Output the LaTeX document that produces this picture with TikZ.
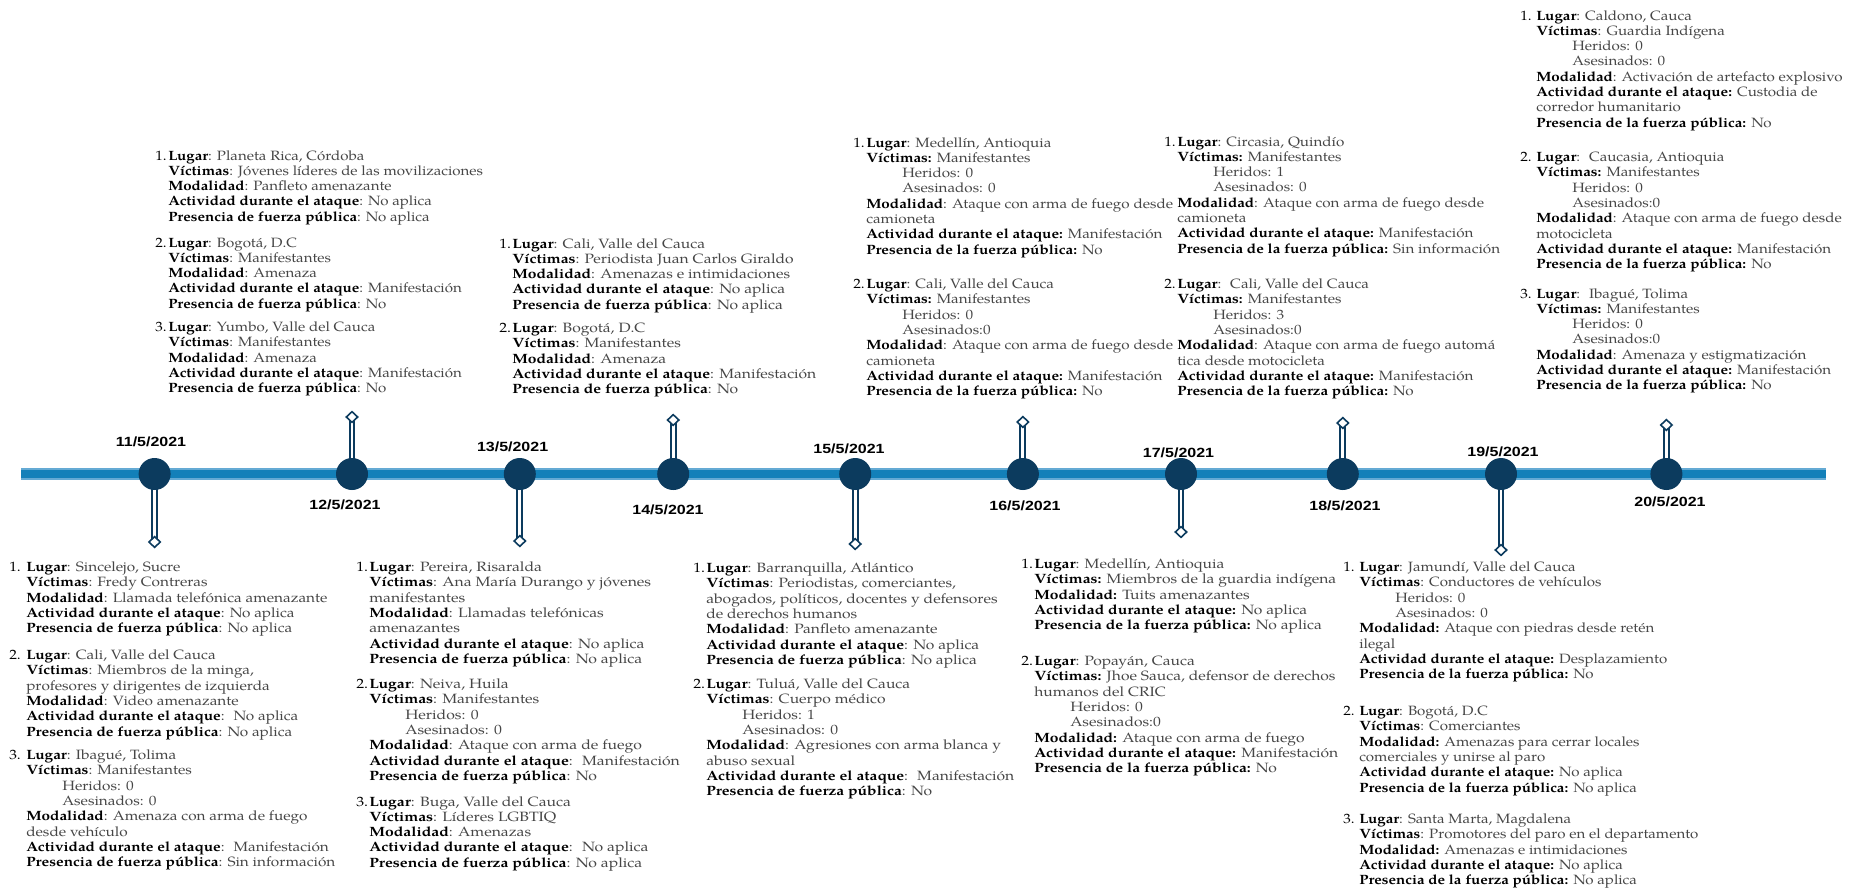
\documentclass[tikz,border=0pt]{standalone}
\usepackage{fontspec}
\setmainfont{TeX Gyre Pagella}
\newfontfamily\datefont{Liberation Sans}[FakeStretch=1.2]
\usetikzlibrary{shapes.geometric,backgrounds}
\definecolor{navy}{RGB}{12,59,94}
\definecolor{tlblue}{RGB}{19,128,185}
\definecolor{tledge}{RGB}{100,170,212}
\definecolor{valgray}{RGB}{70,70,70}
\newdimen\pxu \pxu=0.75pt
\newcommand\lb[1]{\textcolor{black}{\bfseries #1}}
\newcommand\subind{\hspace*{27pt}}
\newcommand\itm[3]{\makebox[#1\pxu][l]{\textcolor{black}{#2}}\begin{tabular}[t]{@{}l@{}}#3\end{tabular}}
\tikzset{
 evt/.style={circle, fill=navy, minimum size=24pt, inner sep=0},
 tip/.style={diamond, draw=navy, line width=1.2pt, fill=white, minimum width=9pt, minimum height=8.5pt, inner sep=0},
 stem/.style={draw=navy, line width=1.5pt, double=white, double distance=2.2pt},
 datelbl/.style={font=\datefont\bfseries\fontsize{10}{12}\selectfont, inner sep=0, anchor=center},
 item/.style={anchor=base west, inner sep=0, text=valgray, font={\fontsize{10.1}{11.475}\selectfont\addfontfeature{FakeStretch=#1}}},
}
\begin{document}
\begin{tikzpicture}[x=0.75pt,y=-0.75pt]
\useasboundingbox (0,0) rectangle (1865,889);
\coordinate (tlstart) at (21,474);
\coordinate (tlend) at (1826,474);
% event circles
\node[evt] (c11) at (154.6,474) {};
\node[evt] (c12) at (352,474) {};
\node[evt] (c13) at (519.8,474) {};
\node[evt] (c14) at (673.2,474) {};
\node[evt] (c15) at (855.2,474) {};
\node[evt] (c16) at (1022.9,474) {};
\node[evt] (c17) at (1181,474) {};
\node[evt] (c18) at (1342.8,474) {};
\node[evt] (c19) at (1501,474) {};
\node[evt] (c20) at (1666.4,474) {};
% stem tips
\node[tip] (d11) at (154.6,542) {};
\node[tip] (d12) at (352,417) {};
\node[tip] (d13) at (519.8,541) {};
\node[tip] (d14) at (673.2,420) {};
\node[tip] (d15) at (855.2,544) {};
\node[tip] (d16) at (1022.9,422) {};
\node[tip] (d17) at (1181,532) {};
\node[tip] (d18) at (1342.8,423) {};
\node[tip] (d19) at (1501,550) {};
\node[tip] (d20) at (1666.4,425) {};
% dates
\node[datelbl] (l11) at (151,442) {11/5/2021};
\node[datelbl] (l12) at (345,505) {12/5/2021};
\node[datelbl] (l13) at (512.6,447) {13/5/2021};
\node[datelbl] (l14) at (668,510) {14/5/2021};
\node[datelbl] (l15) at (849,449) {15/5/2021};
\node[datelbl] (l16) at (1025,506) {16/5/2021};
\node[datelbl] (l17) at (1178.5,453) {17/5/2021};
\node[datelbl] (l18) at (1345,506) {18/5/2021};
\node[datelbl] (l19) at (1503,452) {19/5/2021};
\node[datelbl] (l20) at (1670,502) {20/5/2021};
\begin{scope}[on background layer]
\fill[white] (0,0) rectangle (1865,889);
\draw[tledge, line width=8.8pt] (tlstart) -- (tlend);
\draw[tlblue, line width=6.6pt] (tlstart) -- (tlend);
\foreach \k in {11,...,20}{\draw[stem] (c\k.center) -- (d\k.center);}
\end{scope}
% ---------- top blocks ----------
\node[item=1.12] (t1a) at (155,160) {\itm{13}{1.}{\lb{Lugar}: Planeta Rica, Córdoba\\ \lb{Víctimas}: Jóvenes líderes de las movilizaciones\\ \lb{Modalidad}: Panfleto amenazante\\ \lb{Actividad durante el ataque}: No aplica\\ \lb{Presencia de fuerza pública}: No aplica}};
\node[item=1.12] (t1b) at (155,247) {\itm{13}{2.}{\lb{Lugar}: Bogotá, D.C\\ \lb{Víctimas}: Manifestantes\\ \lb{Modalidad}: Amenaza\\ \lb{Actividad durante el ataque}: Manifestación\\ \lb{Presencia de fuerza pública}: No}};
\node[item=1.12] (t1c) at (155,331.5) {\itm{13}{3.}{\lb{Lugar}: Yumbo, Valle del Cauca\\ \lb{Víctimas}: Manifestantes\\ \lb{Modalidad}: Amenaza\\ \lb{Actividad durante el ataque}: Manifestación\\ \lb{Presencia de fuerza pública}: No}};
\node[item=1.16] (t2a) at (499,248) {\itm{13}{1.}{\lb{Lugar}: Cali, Valle del Cauca\\ \lb{Víctimas}: Periodista Juan Carlos Giraldo\\ \lb{Modalidad}: Amenazas e intimidaciones\\ \lb{Actividad durante el ataque}: No aplica\\ \lb{Presencia de fuerza pública}: No aplica}};
\node[item=1.16] (t2b) at (499,332.5) {\itm{13}{2.}{\lb{Lugar}: Bogotá, D.C\\ \lb{Víctimas}: Manifestantes\\ \lb{Modalidad}: Amenaza\\ \lb{Actividad durante el ataque}: Manifestación\\ \lb{Presencia de fuerza pública}: No}};
\node[item=1.13] (t3a) at (853,147) {\itm{13}{1.}{\lb{Lugar}: Medellín, Antioquia\\ \lb{Víctimas:} Manifestantes\\ \subind Heridos: 0\\ \subind Asesinados: 0\\ \lb{Modalidad}: Ataque con arma de fuego desde\\ camioneta\\ \lb{Actividad durante el ataque:} Manifestación\\ \lb{Presencia de la fuerza pública:} No}};
\node[item=1.13] (t3b) at (853,288.5) {\itm{13}{2.}{\lb{Lugar}: Cali, Valle del Cauca\\ \lb{Víctimas:} Manifestantes\\ \subind Heridos: 0\\ \subind Asesinados:0\\ \lb{Modalidad}: Ataque con arma de fuego desde\\ camioneta\\ \lb{Actividad durante el ataque:} Manifestación\\ \lb{Presencia de la fuerza pública:} No}};
\node[item=1.13] (t4a) at (1164,146) {\itm{13}{1.}{\lb{Lugar}: Circasia, Quindío\\ \lb{Víctimas:} Manifestantes\\ \subind Heridos: 1\\ \subind Asesinados: 0\\ \lb{Modalidad}: Ataque con arma de fuego desde\\ camioneta\\ \lb{Actividad durante el ataque:} Manifestación\\ \lb{Presencia de la fuerza pública:} Sin información}};
\node[item=1.13] (t4b) at (1164,288.5) {\itm{13}{2.}{\lb{Lugar}: \ Cali, Valle del Cauca\\ \lb{Víctimas:} Manifestantes\\ \subind Heridos: 3\\ \subind Asesinados:0\\ \lb{Modalidad}: Ataque con arma de fuego automá\\ tica desde motocicleta\\ \lb{Actividad durante el ataque:} Manifestación\\ \lb{Presencia de la fuerza pública:} No}};
\node[item=1.125] (t5a) at (1520,20) {\itm{16}{1.}{\lb{Lugar}: Caldono, Cauca\\ \lb{Víctimas}: Guardia Indígena\\ \subind Heridos: 0\\ \subind Asesinados: 0\\ \lb{Modalidad}: Activación de artefacto explosivo\\ \lb{Actividad durante el ataque:} Custodia de\\ corredor humanitario\\ \lb{Presencia de la fuerza pública:} No}};
\node[item=1.125] (t5b) at (1520,161.5) {\itm{16}{2.}{\lb{Lugar}: \ Caucasia, Antioquia\\ \lb{Víctimas:} Manifestantes\\ \subind Heridos: 0\\ \subind Asesinados:0\\ \lb{Modalidad}: Ataque con arma de fuego desde\\ motocicleta\\ \lb{Actividad durante el ataque:} Manifestación\\ \lb{Presencia de la fuerza pública:} No}};
\node[item=1.125] (t5c) at (1520,298) {\itm{16}{3.}{\lb{Lugar}: \ Ibagué, Tolima\\ \lb{Víctimas:} Manifestantes\\ \subind Heridos: 0\\ \subind Asesinados:0\\ \lb{Modalidad}: Amenaza y estigmatización\\ \lb{Actividad durante el ataque:} Manifestación\\ \lb{Presencia de la fuerza pública:} No}};
% ---------- bottom blocks ----------
\node[item=1.14] (b1a) at (9,571.5) {\itm{17}{1.}{\lb{Lugar}: Sincelejo, Sucre\\ \lb{Víctimas}: Fredy Contreras\\ \lb{Modalidad}: Llamada telefónica amenazante\\ \lb{Actividad durante el ataque}: No aplica\\ \lb{Presencia de fuerza pública}: No aplica}};
\node[item=1.14] (b1b) at (9,659.5) {\itm{17}{2.}{\lb{Lugar}: Cali, Valle del Cauca\\ \lb{Víctimas}: Miembros de la minga,\\ profesores y dirigentes de izquierda\\ \lb{Modalidad}: Video amenazante\\ \lb{Actividad durante el ataque}: \ No aplica\\ \lb{Presencia de fuerza pública}: No aplica}};
\node[item=1.14] (b1c) at (9,759.5) {\itm{17}{3.}{\lb{Lugar}: Ibagué, Tolima\\ \lb{Víctimas}: Manifestantes\\ \subind Heridos: 0\\ \subind Asesinados: 0\\ \lb{Modalidad}: Amenaza con arma de fuego\\ desde vehículo\\ \lb{Actividad durante el ataque}: \ Manifestación\\ \lb{Presencia de fuerza pública}: Sin información}};
\node[item=1.17] (b2a) at (356,571.5) {\itm{13}{1.}{\lb{Lugar}: Pereira, Risaralda\\ \lb{Víctimas}: Ana María Durango y jóvenes\\ manifestantes\\ \lb{Modalidad}: Llamadas telefónicas\\ amenazantes\\ \lb{Actividad durante el ataque}: No aplica\\ \lb{Presencia de fuerza pública}: No aplica}};
\node[item=1.17] (b2b) at (356,688.5) {\itm{13}{2.}{\lb{Lugar}: Neiva, Huila\\ \lb{Víctimas}: Manifestantes\\ \subind Heridos: 0\\ \subind Asesinados: 0\\ \lb{Modalidad}: Ataque con arma de fuego\\ \lb{Actividad durante el ataque}: \ Manifestación\\ \lb{Presencia de fuerza pública}: No}};
\node[item=1.17] (b2c) at (356,806) {\itm{13}{3.}{\lb{Lugar}: Buga, Valle del Cauca\\ \lb{Víctimas}: Líderes LGBTIQ\\ \lb{Modalidad}: Amenazas\\ \lb{Actividad durante el ataque}: \ No aplica\\ \lb{Presencia de fuerza pública}: No aplica}};
\node[item=1.16] (b3a) at (693,572.5) {\itm{13}{1.}{\lb{Lugar}: Barranquilla, Atlántico\\ \lb{Víctimas}: Periodistas, comerciantes,\\ abogados, políticos, docentes y defensores\\ de derechos humanos\\ \lb{Modalidad}: Panfleto amenazante\\ \lb{Actividad durante el ataque}: No aplica\\ \lb{Presencia de fuerza pública}: No aplica}};
\node[item=1.16] (b3b) at (693,688.5) {\itm{13}{2.}{\lb{Lugar}: Tuluá, Valle del Cauca\\ \lb{Víctimas}: Cuerpo médico\\ \subind Heridos: 1\\ \subind Asesinados: 0\\ \lb{Modalidad}: Agresiones con arma blanca y\\ abuso sexual\\ \lb{Actividad durante el ataque}: \ Manifestación\\ \lb{Presencia de fuerza pública}: No}};
\node[item=1.16] (b4a) at (1021,568.5) {\itm{13}{1.}{\lb{Lugar}: Medellín, Antioquia\\ \lb{Víctimas:} Miembros de la guardia indígena\\ \lb{Modalidad:} Tuits amenazantes\\ \lb{Actividad durante el ataque:} No aplica\\ \lb{Presencia de la fuerza pública:} No aplica}};
\node[item=1.16] (b4b) at (1021,665.5) {\itm{13}{2.}{\lb{Lugar}: Popayán, Cauca\\ \lb{Víctimas:} Jhoe Sauca, defensor de derechos\\ humanos del CRIC\\ \subind Heridos: 0\\ \subind Asesinados:0\\ \lb{Modalidad:} Ataque con arma de fuego\\ \lb{Actividad durante el ataque:} Manifestación\\ \lb{Presencia de la fuerza pública:} No}};
\node[item=1.12] (b5a) at (1343,571.5) {\itm{16}{1.}{\lb{Lugar}: Jamundí, Valle del Cauca\\ \lb{Víctimas}: Conductores de vehículos\\ \subind Heridos: 0\\ \subind Asesinados: 0\\ \lb{Modalidad:} Ataque con piedras desde retén\\ ilegal\\ \lb{Actividad durante el ataque:} Desplazamiento\\ \lb{Presencia de la fuerza pública:} No}};
\node[item=1.12] (b5b) at (1343,715.5) {\itm{16}{2.}{\lb{Lugar}: Bogotá, D.C\\ \lb{Víctimas}: Comerciantes\\ \lb{Modalidad:} Amenazas para cerrar locales\\ comerciales y unirse al paro\\ \lb{Actividad durante el ataque:} No aplica\\ \lb{Presencia de la fuerza pública:} No aplica}};
\node[item=1.12] (b5c) at (1343,823.5) {\itm{16}{3.}{\lb{Lugar}: Santa Marta, Magdalena\\ \lb{Víctimas}: Promotores del paro en el departamento\\ \lb{Modalidad:} Amenazas e intimidaciones\\ \lb{Actividad durante el ataque:} No aplica\\ \lb{Presencia de la fuerza pública:} No aplica}};
\end{tikzpicture}
\end{document}
